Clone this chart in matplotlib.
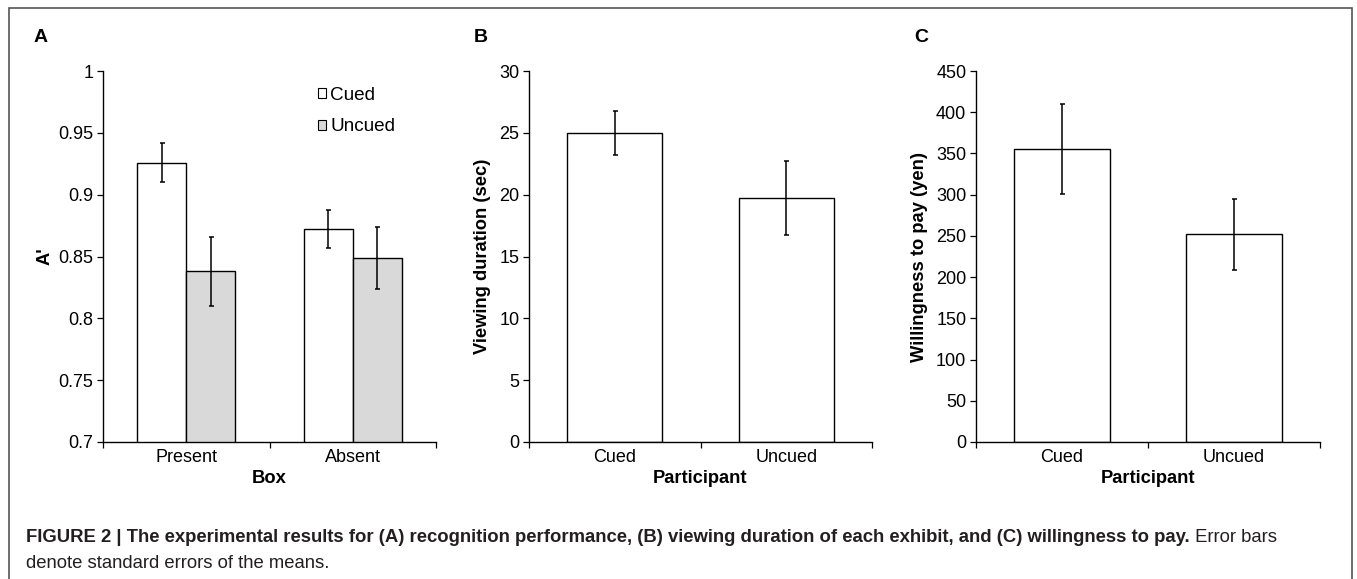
import matplotlib
matplotlib.use("Agg")
import matplotlib.pyplot as plt
from matplotlib.patches import Patch, Rectangle
import numpy as np

plt.rcParams['font.family'] = ['Liberation Sans', 'DejaVu Sans']

# Panel A: recognition performance (A')
boxes = ['Present', 'Absent']
a_cued = [0.926, 0.872]
a_cued_err = [0.016, 0.0155]
a_uncued = [0.838, 0.849]
a_uncued_err = [0.028, 0.025]

# Panel B: viewing duration
participants = ['Cued', 'Uncued']
b_vals = [25.0, 19.75]
b_err = [1.8, 3.0]

# Panel C: willingness to pay
c_vals = [355.5, 252.0]
c_err = [55.0, 43.0]

W, H = 1357, 579
fig = plt.figure(figsize=(W / 100, H / 100), dpi=100)

gray = '#d9d9d9'
ekw = dict(ecolor='black', elinewidth=1.1, capsize=1.8, capthick=1.1)
TICK_FS = 13
LAB_FS = 13.2


def style_axis(ax, n):
    ax.spines['top'].set_visible(False)
    ax.spines['right'].set_visible(False)
    ax.spines['left'].set_linewidth(1.0)
    ax.spines['bottom'].set_linewidth(1.0)
    ax.set_xlim(-0.5, n - 0.5)
    ax.set_xticks(np.arange(n))
    ax.set_xticks(np.arange(n + 1) - 0.5, minor=True)
    ax.tick_params(axis='x', which='major', length=0, pad=5, labelsize=TICK_FS)
    ax.tick_params(axis='x', which='minor', length=4, width=0.9, direction='out')
    ax.tick_params(axis='y', length=4, width=0.9, direction='out', labelsize=TICK_FS, pad=3)


# Panel A
axA = fig.add_axes([103 / W, 1 - 442 / H, 333 / W, 371 / H])
x = np.arange(len(boxes))
bw = 0.294
axA.bar(x - bw / 2, a_cued, bw, yerr=a_cued_err, color='white', edgecolor='black',
        linewidth=1.0, error_kw=ekw, label='Cued')
axA.bar(x + bw / 2, a_uncued, bw, yerr=a_uncued_err, color=gray, edgecolor='black',
        linewidth=1.0, error_kw=ekw, label='Uncued')
style_axis(axA, len(boxes))
axA.set_ylim(0.7, 1.0)
axA.set_yticks([0.7, 0.75, 0.8, 0.85, 0.9, 0.95, 1.0])
axA.set_yticklabels(['0.7', '0.75', '0.8', '0.85', '0.9', '0.95', '1'])
axA.set_xticklabels(boxes)
axA.set_xlabel('Box', fontweight='bold', fontsize=LAB_FS, labelpad=3)
axA.set_ylabel("A'", fontweight='bold', fontsize=LAB_FS, labelpad=3)
handles = [Patch(facecolor='white', edgecolor='black', linewidth=0.8),
           Patch(facecolor=gray, edgecolor='black', linewidth=0.8)]
axA.legend(handles, ['Cued', 'Uncued'], loc='upper left', bbox_to_anchor=(0.645, 0.958),
           frameon=False, fontsize=13.6, handlelength=0.45, handleheight=0.45,
           handletextpad=0.2, labelspacing=0.78, borderaxespad=0, borderpad=0)

# Panel B
axB = fig.add_axes([529 / W, 1 - 442 / H, 343 / W, 371 / H])
xb = np.arange(len(participants))
axB.bar(xb, b_vals, 0.555, yerr=b_err, color='white', edgecolor='black',
        linewidth=1.0, error_kw=ekw)
style_axis(axB, len(participants))
axB.set_ylim(0, 30)
axB.set_yticks(np.arange(0, 31, 5))
axB.set_xticklabels(participants)
axB.set_xlabel('Participant', fontweight='bold', fontsize=LAB_FS, labelpad=3)
axB.set_ylabel('Viewing duration (sec)', fontweight='bold', fontsize=LAB_FS, labelpad=6)

# Panel C
axC = fig.add_axes([976 / W, 1 - 442 / H, 344 / W, 371 / H])
axC.bar(xb, c_vals, 0.555, yerr=c_err, color='white', edgecolor='black',
        linewidth=1.0, error_kw=ekw)
style_axis(axC, len(participants))
axC.set_ylim(0, 450)
axC.set_yticks(np.arange(0, 451, 50))
axC.set_xticklabels(participants)
axC.set_xlabel('Participant', fontweight='bold', fontsize=LAB_FS, labelpad=3)
axC.set_ylabel('Willingness to pay (yen)', fontweight='bold', fontsize=LAB_FS, labelpad=6)

# panel letters
for lx, letter in [(34, 'A'), (34 + 440, 'B'), (34 + 880, 'C')]:
    fig.text(lx / W, 1 - 37 / H, letter, fontweight='bold', fontsize=14,
             ha='left', va='center')

# frame around the figure
fig.patches.append(Rectangle((9 / W, -0.1), (1352 - 9) / W, 1.1 - 8 / H,
                             transform=fig.transFigure, fill=False,
                             edgecolor='#555555', linewidth=1.2))

# caption
cap_bold = ('FIGURE 2 | The experimental results for (A) recognition performance, '
            '(B) viewing duration of each exhibit, and (C) willingness to pay.')
cap_rest = ' Error bars'
cap_line2 = 'denote standard errors of the means.'
t1 = fig.text(26 / W, 1 - 537 / H, cap_bold, fontweight='bold', fontsize=13.3,
              ha='left', va='center', color='#231f20')
fig.canvas.draw()
bb = t1.get_window_extent()
fig.text(bb.x1 / W, 1 - 537 / H, cap_rest, fontsize=13.3, ha='left', va='center',
         color='#231f20')
fig.text(26 / W, 1 - 563 / H, cap_line2, fontsize=13.3, ha='left', va='center',
         color='#231f20')

fig.savefig('out.png', dpi=100)
